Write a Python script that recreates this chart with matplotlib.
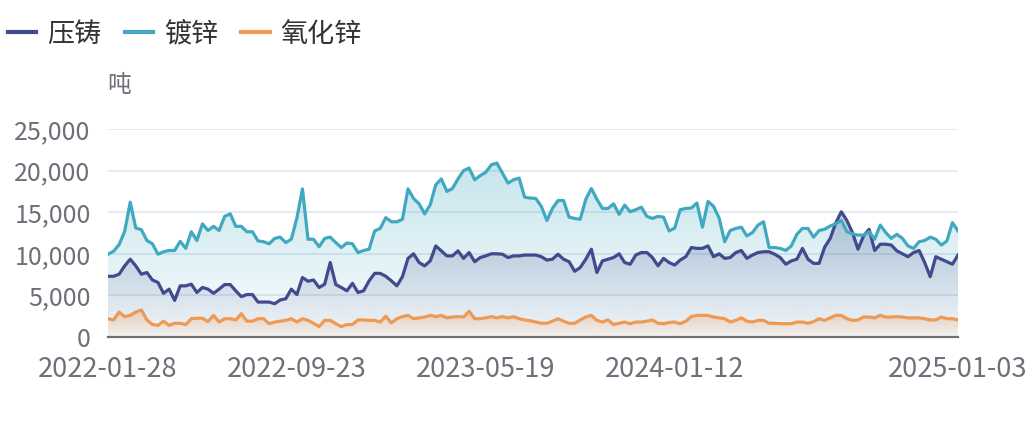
import numpy as np
import pandas as pd
import matplotlib
matplotlib.use("Agg")
import matplotlib.pyplot as plt
from matplotlib.lines import Line2D
from matplotlib.colors import to_rgb
from matplotlib.ticker import FuncFormatter

plt.rcParams['font.family'] = ['Noto Sans CJK SC', 'DejaVu Sans']

# weekly dates, 2022-01-28 .. 2025-01-03
dates = pd.date_range('2022-01-28', '2025-01-03', freq='7D').strftime('%Y-%m-%d').tolist()
tick_labels = ['2022-01-28', '2022-09-23', '2023-05-19', '2024-01-12', '2025-01-03']

series_names = ['压铸', '镀锌', '氧化锌']

# 压铸
die_casting = [
    7300, 7300, 7550, 8550, 9350, 8550, 7550, 7750, 6850, 6550,
    5250, 5750, 4400, 6150, 6150, 6350, 5350, 5950, 5750, 5250,
    5750, 6300, 6300, 5550, 4850, 5100, 5100, 4200, 4200, 4200,
    4000, 4450, 4600, 5750, 5100, 7150, 6700, 6850, 5950, 6350,
    8950, 6300, 5950, 5550, 6450, 5350, 5550, 6750, 7650, 7650,
    7300, 6750, 6150, 7250, 9450, 10000, 8950, 8550, 9150, 10950,
    10350, 9750, 9750, 10350, 9450, 10150, 9050, 9550, 9750, 10000,
    10000, 9950, 9550, 9750, 9750, 9850, 9850, 9850, 9650, 9250,
    9350, 9950, 9350, 9050, 7900, 8350, 9350, 10550, 7750, 9150,
    9350, 9550, 10000, 8950, 8750, 9850, 10150, 10150, 9550, 8550,
    9450, 8950, 8650, 9250, 9650, 10750, 10650, 10650, 10950, 9650,
    10000, 9450, 9550, 10150, 10400, 9450, 9850, 10150, 10250, 10250,
    9950, 9550, 8750, 9150, 9350, 10650, 9350, 8850, 8850, 10800,
    11850, 13700, 15050, 14000, 12550, 10550, 12150, 12950, 10400, 11150,
    11150, 11050, 10350, 10000, 9650, 10150, 10400, 8950, 7250, 9650,
    9350, 9050, 8750, 9850,
]

# 镀锌
galvanizing = [
    9950, 10300, 11100, 12700, 16200, 13100, 12900, 11600, 11200, 9950,
    10250, 10400, 10400, 11500, 10650, 12650, 11600, 13600, 12800, 13300,
    12800, 14500, 14800, 13300, 13300, 12650, 12650, 11550, 11450, 11200,
    11850, 12000, 11350, 11750, 14300, 17800, 11750, 11750, 10850, 11850,
    12000, 11350, 10750, 11300, 11200, 10150, 10400, 10550, 12750, 13050,
    14350, 13850, 13850, 14150, 17800, 16650, 16000, 14800, 15900, 18300,
    19000, 17500, 17850, 19000, 20000, 20300, 18900, 19400, 19800, 20700,
    20900, 19700, 18500, 18900, 19100, 16800, 16700, 16650, 15700, 14000,
    15450, 16400, 16400, 14400, 14250, 14150, 16550, 17850, 16550, 15450,
    15450, 16000, 14750, 15850, 15050, 15300, 15600, 14500, 14250, 14500,
    14400, 12750, 13100, 15300, 15450, 15500, 16100, 13200, 16300, 15700,
    14300, 11450, 12800, 13050, 13200, 12150, 12550, 13450, 13850, 10750,
    10750, 10650, 10400, 10950, 12350, 13050, 13050, 12000, 12800, 12950,
    13350, 13600, 14000, 12650, 12400, 12250, 12250, 12650, 11750, 13450,
    12550, 11850, 12350, 11850, 10950, 10650, 11450, 11600, 12000, 11750,
    11050, 11550, 13750, 12750,
]

# 氧化锌
zinc_oxide = [
    2200, 2050, 3000, 2450, 2600, 3000, 3250, 2050, 1500, 1400,
    1900, 1400, 1650, 1650, 1500, 2200, 2250, 2250, 1850, 2600,
    1800, 2200, 2200, 2050, 2800, 1900, 1900, 2200, 2200, 1600,
    1800, 1900, 2000, 2200, 1800, 2200, 2000, 1650, 1250, 2000,
    2000, 1600, 1250, 1500, 1500, 2050, 2050, 2000, 2000, 1800,
    2500, 1700, 2200, 2450, 2600, 2200, 2300, 2400, 2600, 2450,
    2600, 2300, 2400, 2450, 2400, 3100, 2200, 2200, 2300, 2450,
    2300, 2450, 2300, 2450, 2200, 2050, 1950, 1800, 1650, 1650,
    1900, 2200, 1900, 1650, 1650, 2050, 2400, 2600, 2000, 1800,
    2050, 1500, 1650, 1800, 1600, 1800, 1800, 1900, 2050, 1650,
    1600, 1750, 1800, 1600, 1900, 2450, 2600, 2600, 2600, 2400,
    2300, 2200, 1800, 2000, 2300, 1900, 1800, 2000, 2000, 1650,
    1650, 1600, 1600, 1600, 1800, 1800, 1650, 1850, 2200, 2000,
    2300, 2600, 2600, 2200, 2000, 2050, 2400, 2400, 2300, 2600,
    2400, 2400, 2450, 2400, 2300, 2300, 2300, 2200, 2050, 2050,
    2400, 2200, 2200, 2050,
]

colors = ['#414A8C', '#40A9C0', '#EE9A55']
grad_alpha = [(0.30, 0.03), (0.30, 0.03), (0.35, 0.05)]


def gradient_fill(ax, x, y, color, a_top, a_bot, z):
    poly = ax.fill_between(x, y, 0, facecolor='none', edgecolor='none', zorder=z)
    img = np.zeros((256, 1, 4))
    img[:, :, :3] = to_rgb(color)
    img[:, 0, 3] = np.linspace(a_bot, a_top, 256)
    im = ax.imshow(img, aspect='auto', origin='lower', interpolation='bilinear',
                   extent=[x[0], x[-1], 0, max(y)], zorder=z)
    im.set_clip_path(poly.get_paths()[0], transform=ax.transData)


fig = plt.figure(figsize=(10.32, 4.38), dpi=100)
ax = fig.add_axes([108 / 1032, 1 - 337 / 438, 850 / 1032, 208 / 438])

x = np.arange(len(dates))
all_series = [die_casting, galvanizing, zinc_oxide]
for k, (vals, c) in enumerate(zip(all_series, colors)):
    gradient_fill(ax, x, vals, c, grad_alpha[k][0], grad_alpha[k][1], 1 + k)
    ax.plot(x, vals, color=c, lw=2.3, solid_joinstyle='round', zorder=5 + k)

ax.set_xlim(0, len(dates) - 1)
ax.set_ylim(0, 25000)
ax.set_yticks(range(0, 25001, 5000))
ax.yaxis.set_major_formatter(FuncFormatter(lambda v, p: f'{int(v):,}'))
tick_pos = [dates.index(t) for t in tick_labels]
ax.set_xticks(tick_pos)
ax.set_xticklabels(tick_labels)

ax.grid(axis='y', color='#E0E6F1', lw=1.2, zorder=0)
ax.set_axisbelow(True)
for s in ['top', 'right', 'left']:
    ax.spines[s].set_visible(False)
ax.spines['bottom'].set_color('#6E7079')
ax.spines['bottom'].set_linewidth(1.6)
ax.spines['bottom'].set_zorder(10)
ax.tick_params(axis='both', length=0, labelcolor='#6E7079')
ax.tick_params(axis='y', pad=12.5, labelsize=18)
ax.tick_params(axis='x', pad=14, labelsize=19.5)

fig.text(107 / 1032, 1 - 86 / 438, '吨', fontsize=17, color='#6E7079', va='center', ha='left')

handles = [Line2D([0], [0], color=c, lw=3) for c in colors]
fig.legend(handles, series_names, loc='center left', bbox_to_anchor=(8 / 1032, 1 - 34 / 438),
           frameon=False, fontsize=19.5, handlelength=1.05, handletextpad=0.4,
           columnspacing=0.85, ncol=3, borderpad=0, borderaxespad=0, labelcolor='#333333')

fig.savefig('out.png', dpi=100)
